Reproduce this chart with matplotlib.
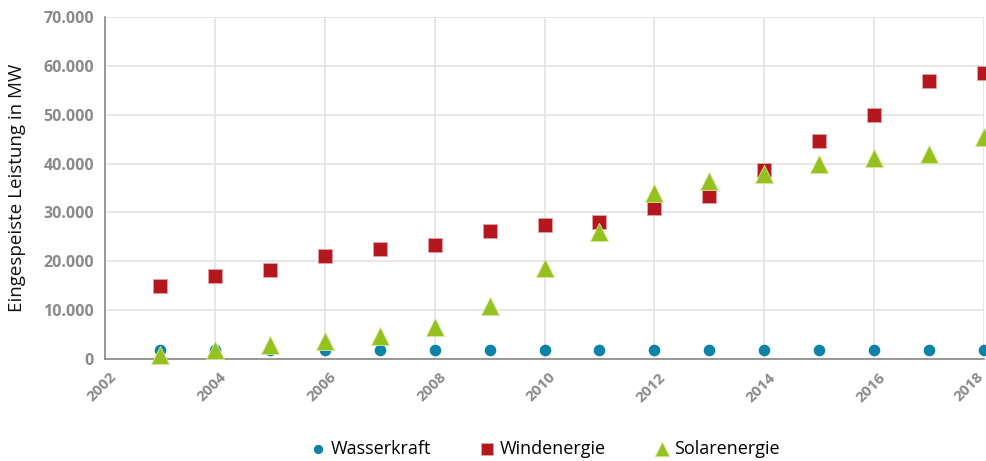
import matplotlib
matplotlib.use("Agg")
import matplotlib.pyplot as plt
import matplotlib.transforms as mtransforms

years = list(range(2003, 2019))
wasserkraft = [1900, 1900, 1800, 1900, 1900, 1900, 1900, 1900, 1900, 1900, 1900, 1900, 1900, 1900, 1900, 1900]
windenergie = [14900, 17000, 18200, 21100, 22500, 23300, 26200, 27400, 28000, 31000, 33400, 38700, 44600, 49900, 56900, 58500]
solarenergie = [800, 1800, 2900, 3700, 4700, 6500, 10800, 18600, 26000, 34000, 36400, 37900, 39900, 41100, 42000, 45400]
y_ticks = [0, 10000, 20000, 30000, 40000, 50000, 60000, 70000]
y_labels = ["0", "10.000", "20.000", "30.000", "40.000", "50.000", "60.000", "70.000"]
x_ticks = [2002, 2004, 2006, 2008, 2010, 2012, 2014, 2016, 2018]

plt.rcParams['font.family'] = ['Open Sans', 'DejaVu Sans']

fig = plt.figure(figsize=(9.87, 4.61), dpi=100)
ax = fig.add_axes([105/987, 1-359/461, 879/987, 342/461])

ax.scatter(years, wasserkraft, s=70, marker='o', color='#0b83a8', label='Wasserkraft', zorder=3, clip_on=False, linewidths=0)
ax.scatter(years, windenergie, s=110, marker='s', color='#b5171f', label='Windenergie', zorder=3, clip_on=False, edgecolors='#e8a0a4', linewidths=0.6)
ax.scatter(years, solarenergie, s=170, marker='^', color='#95c11f', label='Solarenergie', zorder=4, clip_on=False, edgecolors='#d5e8a0', linewidths=0.6)

ax.set_xlim(2002, 2018)
ax.set_ylim(0, 70000)
ax.set_yticks(y_ticks)
ax.set_yticklabels(y_labels)
ax.set_xticks(x_ticks)
ax.set_xticklabels([str(x) for x in x_ticks], rotation=45, ha='right', rotation_mode='anchor')

ax.grid(True, color='#e3e3e3', linewidth=1.2)
ax.set_axisbelow(True)
for s in ['top', 'right']:
    ax.spines[s].set_visible(False)
ax.spines['left'].set_color('#888888')
ax.spines['bottom'].set_color('#888888')
ax.spines['left'].set_linewidth(1.2)
ax.spines['bottom'].set_linewidth(1.2)
ax.tick_params(axis='both', length=0, colors='#8a8a8a', labelsize=11.5, pad=8)
ax.tick_params(axis='x', labelsize=11)
for lab in ax.get_xticklabels() + ax.get_yticklabels():
    lab.set_fontweight('bold')

xl = ax.get_xticklabels()
for lab in xl[:-1]:
    lab.set_transform(lab.get_transform() + mtransforms.ScaledTranslation(4/100, 0, fig.dpi_scale_trans))
xl[-1].set_transform(xl[-1].get_transform() + mtransforms.ScaledTranslation(-8/100, 0, fig.dpi_scale_trans))

ax.set_ylabel('Eingespeiste Leistung in MW', fontsize=13.5, color='#111111', labelpad=12)

axc = (105 + 879/2) / 987
leg = fig.legend(loc='center', bbox_to_anchor=(axc, 1-449/461), ncol=3, frameon=False,
                 fontsize=13, handletextpad=0.2, columnspacing=2.6, handlelength=1.0,
                 markerscale=0.8)

fig.savefig('out.png', dpi=100)
